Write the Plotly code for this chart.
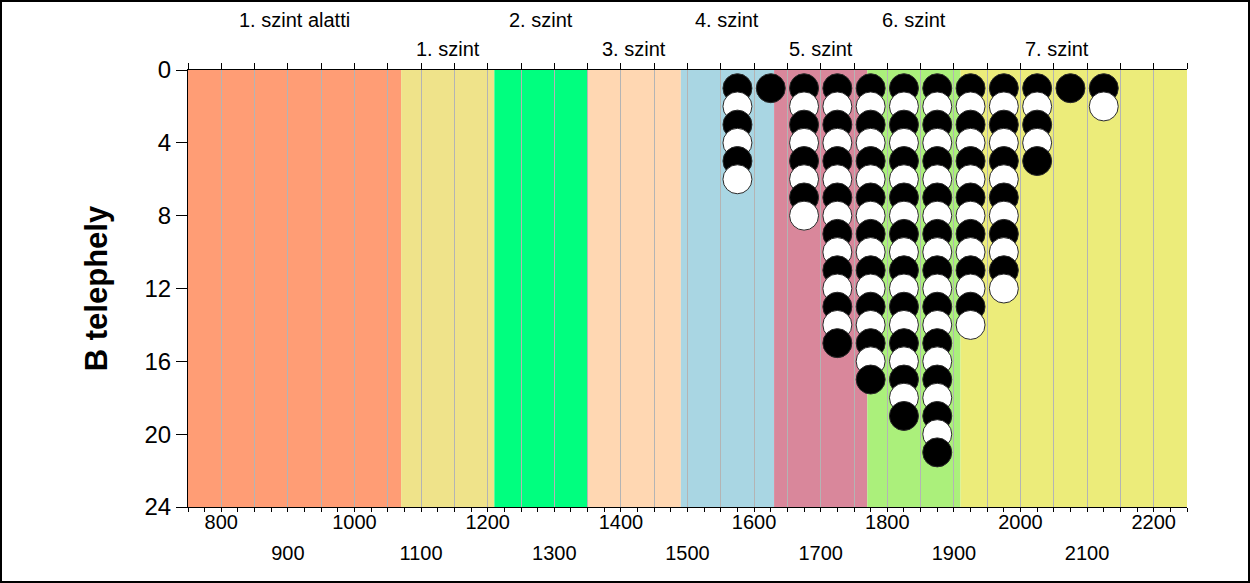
import plotly.graph_objects as go

# histogram-like dot plot: one dot per item, stacked per bin
bin_centers = [1575, 1625, 1675, 1725, 1775, 1825, 1875, 1925, 1975, 2025, 2075, 2125]
bin_counts = [6, 1, 8, 15, 17, 19, 21, 14, 12, 5, 1, 2]

level_names = ["1. szint alatti", "1. szint", "2. szint", "3. szint",
               "4. szint", "5. szint", "6. szint", "7. szint"]
level_edges = [750, 1070, 1210, 1350, 1490, 1630, 1770, 1910, 2250]
level_colors = ["#FF9D75", "#EFE38A", "#00FF7F", "#FFD7B2",
                "#A9D6E3", "#D9879B", "#ABF07B", "#ECEC7A"]

x_labels_row1 = [800, 1000, 1200, 1400, 1600, 1800, 2000, 2200]
x_labels_row2 = [900, 1100, 1300, 1500, 1700, 1900, 2100]
y_ticks = [0, 4, 8, 12, 16, 20, 24]

X_MIN, X_MAX = 750, 2250
LABEL_RIGHT = 2200
FONT = "Arial, Liberation Sans, sans-serif"

W, H = 1250, 583
ML, MR, MT, MB = 188, 63, 70, 76

# expand counts into stacked dots, alternating black / white
xs, ys, fills = [], [], []
for x, n in zip(bin_centers, bin_counts):
    for k in range(1, n + 1):
        xs.append(x)
        ys.append(k)
        fills.append("black" if k % 2 else "white")

fig = go.Figure()
fig.add_trace(go.Scatter(
    x=xs, y=ys, mode="markers",
    marker=dict(size=29, color=fills, line=dict(color="#2a2a2a", width=1)),
    hoverinfo="skip", showlegend=False,
))
# empty traces so the extra label / top axes get drawn
for ax in ("x2", "x3"):
    fig.add_trace(go.Scatter(x=[], y=[], xaxis=ax, yaxis="y", mode="markers",
                             hoverinfo="skip", showlegend=False))

shapes = []
annotations = []
for i, name in enumerate(level_names):
    lo, hi = level_edges[i], level_edges[i + 1]
    shapes.append(dict(type="rect", xref="x", yref="paper", x0=lo, x1=hi, y0=0, y1=1,
                       fillcolor=level_colors[i], line=dict(width=0), layer="below"))
    annotations.append(dict(x=(lo + min(hi, LABEL_RIGHT)) / 2, y=1, xref="x", yref="paper",
                            text=name, showarrow=False, yanchor="middle",
                            yshift=50 if i % 2 == 0 else 21,
                            font=dict(size=20, color="black", family=FONT)))

# outer frame of the whole figure
pw, ph = W - ML - MR, H - MT - MB
shapes.append(dict(type="rect", xref="paper", yref="paper",
                   x0=(1 - ML) / pw, x1=(W - 1 - ML) / pw,
                   y0=-(MB - 1) / ph, y1=(H - MB - 1) / ph,
                   line=dict(color="black", width=2), layer="above"))

grid_vals = list(range(800, X_MAX, 50))
fig.update_layout(
    width=W, height=H,
    margin=dict(l=ML, r=MR, t=MT, b=MB),
    paper_bgcolor="white", plot_bgcolor="white",
    font=dict(family=FONT, color="black"),
    shapes=shapes, annotations=annotations,
    xaxis=dict(
        range=[X_MIN, X_MAX], tickmode="array",
        tickvals=grid_vals,
        ticktext=[str(v) if v in x_labels_row1 else "" for v in grid_vals],
        ticks="outside", ticklen=4, tickcolor="black", ticklabelstandoff=-7,
        tickfont=dict(size=20), showgrid=True, gridcolor="#B4B4B4", gridwidth=1,
        showline=True, linecolor="black", linewidth=1, zeroline=False,
        minor=dict(tickvals=list(range(X_MIN, X_MAX + 1, 25)), ticks="outside",
                   ticklen=4, tickcolor="black", showgrid=False),
    ),
    xaxis2=dict(
        range=[X_MIN, X_MAX], overlaying="x", anchor="y", side="bottom",
        tickmode="array", tickvals=x_labels_row2, ticktext=[str(v) for v in x_labels_row2],
        ticks="", tickfont=dict(size=20), ticklabelstandoff=32,
        showgrid=False, showline=False, zeroline=False,
    ),
    xaxis3=dict(
        range=[X_MIN, X_MAX], overlaying="x", anchor="y", side="top",
        tickmode="array", tickvals=list(range(X_MIN, X_MAX + 1, 50)),
        ticks="outside", ticklen=6, tickcolor="black", showticklabels=False,
        showgrid=False, showline=True, linecolor="black", linewidth=1, zeroline=False,
    ),
    yaxis=dict(
        range=[24, 0], tickmode="array", tickvals=y_ticks,
        ticks="outside", ticklen=11, tickcolor="black", tickfont=dict(size=24),
        showgrid=False, showline=True, linecolor="black", linewidth=1, zeroline=False,
        title=dict(text="<b>B telephely</b>", font=dict(size=31), standoff=27),
    ),
)

fig.write_html("out.html", config={"displayModeBar": False},
               post_script="document.body.style.margin = '0';")
